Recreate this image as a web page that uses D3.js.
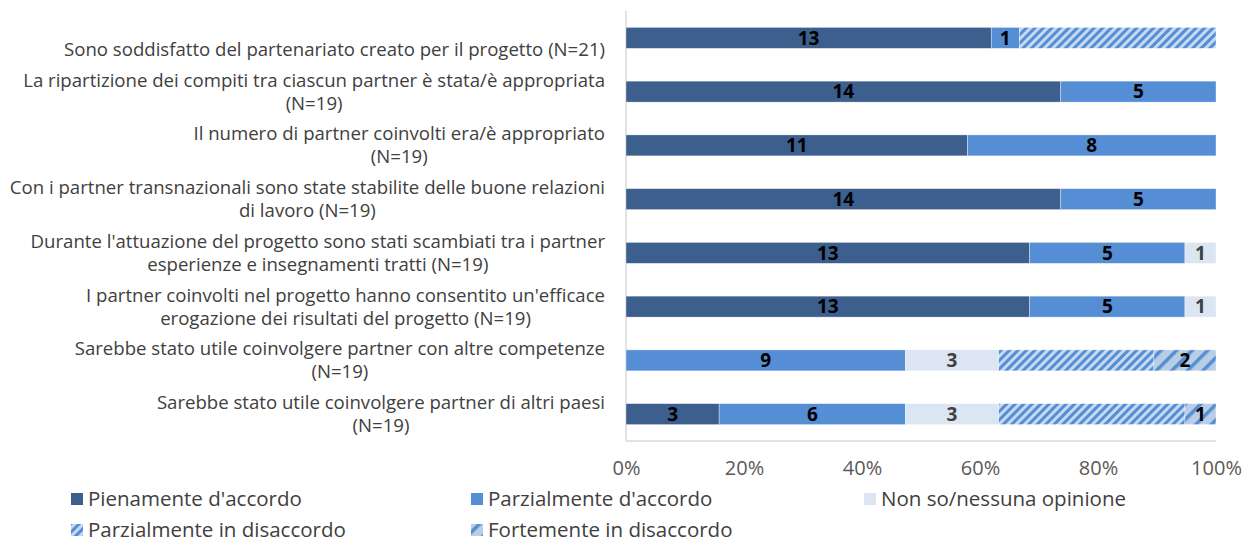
<!DOCTYPE html>
<html>
<head>
<meta charset="utf-8">
<script src="https://cdn.jsdelivr.net/npm/d3@7"></script>
<style>
  body { margin: 0; background: #fff; }
  svg text { font-family: "Open Sans", sans-serif; }
</style>
</head>
<body>
<div class="graph_container"></div>
<script>
const w = 1245;
const h = 542;

// category labels, already split into lines (first one has an empty top line like the original)
const categories = [
  ["", "Sono soddisfatto del partenariato creato per il progetto (N=21)"],
  ["La ripartizione dei compiti tra ciascun partner è stata/è appropriata", "(N=19)"],
  ["Il numero di partner coinvolti era/è appropriato", "(N=19)"],
  ["Con i partner transnazionali sono state stabilite delle buone relazioni", "di lavoro (N=19)"],
  ["Durante l'attuazione del progetto sono stati scambiati tra i partner", "esperienze e insegnamenti tratti (N=19)"],
  ["I partner coinvolti nel progetto hanno consentito un'efficace", "erogazione dei risultati del progetto (N=19)"],
  ["Sarebbe stato utile coinvolgere partner con altre competenze", "(N=19)"],
  ["Sarebbe stato utile coinvolgere partner di altri paesi", "(N=19)"]
];

const seriesNames = ["Pienamente d'accordo", "Parzialmente d'accordo", "Non so/nessuna opinione",
                     "Parzialmente in disaccordo", "Fortemente in disaccordo"];
const pienamente     = [13, 14, 11, 14, 13, 13, 0, 3];
const parzAccordo    = [1, 5, 8, 5, 5, 5, 9, 6];
const nonSo          = [0, 0, 0, 0, 1, 1, 3, 3];
const parzDisaccordo = [7, 0, 0, 0, 0, 0, 5, 6];
const fortemente     = [0, 0, 0, 0, 0, 0, 2, 1];
const ticks = [0, 0.2, 0.4, 0.6, 0.8, 1];

const seriesValues = [pienamente, parzAccordo, nonSo, parzDisaccordo, fortemente];
const keys = ["s0", "s1", "s2", "s3", "s4"];
const fills = ["#3c5f8d", "#558ed5", "#dce6f2", "url(#hatchParz)", "url(#hatchFort)"];
const labelColor = ["#000", "#000", "#404040", null, "#000"];

const rows = categories.map((c, i) => {
  const r = { idx: i };
  keys.forEach((k, j) => r[k] = seriesValues[j][i]);
  return r;
});

const svg = d3.select(".graph_container").append("svg").attr("width", w).attr("height", h);

// hatch patterns
const defs = svg.append("defs");
const p1 = defs.append("pattern").attr("id", "hatchParz").attr("patternUnits", "userSpaceOnUse")
  .attr("width", 6).attr("height", 6).attr("patternTransform", "rotate(45)");
p1.append("rect").attr("width", 6).attr("height", 6).attr("fill", "#c6d9f1");
p1.append("rect").attr("width", 3).attr("height", 6).attr("fill", "#558ed5");
const p2 = defs.append("pattern").attr("id", "hatchFort").attr("patternUnits", "userSpaceOnUse")
  .attr("width", 11).attr("height", 11).attr("patternTransform", "rotate(45)");
p2.append("rect").attr("width", 11).attr("height", 11).attr("fill", "#b9cde5");
p2.append("rect").attr("width", 3.5).attr("height", 11).attr("fill", "#558ed5");

const xScale = d3.scaleLinear().domain([0, 1]).range([626, 1216]);
const yScale = d3.scaleBand().domain(categories.map((c, i) => i)).range([11, 441]).paddingInner(0.61).paddingOuter(0.305);

const stacked = d3.stack().keys(keys).offset(d3.stackOffsetExpand)(rows);

// axes lines
svg.append("line").attr("x1", xScale(0)).attr("x2", xScale(0)).attr("y1", 11).attr("y2", 441)
  .attr("stroke", "#d9d9d9").attr("stroke-width", 1.5);
svg.append("line").attr("x1", xScale(0)).attr("x2", xScale(1)).attr("y1", 441).attr("y2", 441)
  .attr("stroke", "#d9d9d9").attr("stroke-width", 1.5);

const xAxis = d3.axisBottom(xScale).tickValues(ticks).tickFormat(d3.format(".0%")).tickSize(0).tickPadding(20);
const gx = svg.append("g").attr("transform", "translate(0,441)").call(xAxis);
gx.select(".domain").remove();
gx.selectAll("text").attr("font-size", 20).attr("fill", "#595959").style("font-family", "Open Sans");

// bars
const layers = svg.selectAll("g.layer").data(stacked).enter().append("g").attr("class", "layer")
  .attr("fill", (d, i) => fills[i]);
layers.selectAll("rect").data(d => d).enter().append("rect")
  .attr("x", d => xScale(d[0]))
  .attr("y", d => yScale(d.data.idx))
  .attr("width", d => xScale(d[1]) - xScale(d[0]))
  .attr("height", yScale.bandwidth())
  .attr("stroke", "#ffffff").attr("stroke-width", 0.6).attr("stroke-opacity", 0.6);

// value labels
stacked.forEach((s, i) => {
  if (!labelColor[i]) return;
  svg.append("g").selectAll("text").data(s.filter(d => d.data[keys[i]] > 0)).enter().append("text")
    .attr("x", d => (xScale(d[0]) + xScale(d[1])) / 2)
    .attr("y", d => yScale(d.data.idx) + yScale.bandwidth() / 2)
    .attr("dy", "0.36em")
    .attr("text-anchor", "middle")
    .attr("font-size", 19).attr("font-weight", "bold")
    .attr("fill", labelColor[i])
    .text(d => d.data[keys[i]]);
});

// category labels: block right-aligned at 605, lines centred in block
const lineH = 23;
categories.forEach((lines, i) => {
  const cy = yScale(i) + yScale.bandwidth() / 2;
  const g = svg.append("g");
  const texts = lines.map((t, j) => g.append("text")
    .attr("y", cy + (j - (lines.length - 1) / 2) * lineH)
    .attr("dy", "0.35em")
    .attr("font-size", 18.6).attr("fill", "#404040")
    .attr("text-anchor", "middle")
    .text(t));
  const maxW = d3.max(texts, t => t.node().getComputedTextLength());
  texts.forEach(t => t.attr("x", 605 - maxW / 2));
});

// legend
const legendPos = [[71, 499], [471, 499], [864, 499], [71, 530], [471, 530]];
const legend = svg.append("g").selectAll("g").data(seriesNames).enter().append("g")
  .attr("transform", (d, i) => "translate(" + legendPos[i][0] + "," + legendPos[i][1] + ")");
legend.append("rect").attr("x", 0).attr("y", -6).attr("width", 12).attr("height", 12)
  .attr("fill", (d, i) => fills[i]);
legend.append("text").attr("x", 17).attr("dy", "0.35em")
  .attr("font-size", 20.5).attr("fill", "#404040").text(d => d);
</script>
</body>
</html>
